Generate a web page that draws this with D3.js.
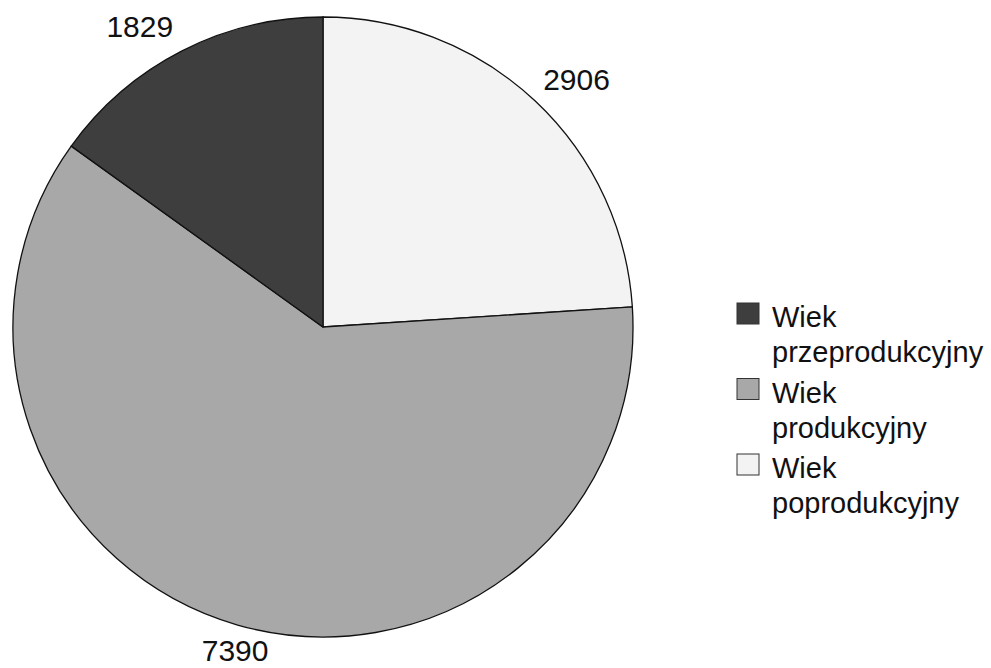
<!DOCTYPE html>
<html>
<head>
<meta charset="utf-8">
<script src="https://cdn.jsdelivr.net/npm/d3@7"></script>
<style>
  body { margin: 0; background: #fff; }
  text { font-family: "Liberation Sans", Arial, sans-serif; fill: #111; }
</style>
</head>
<body>
<script>
const categories = ["Wiek poprodukcyjny", "Wiek produkcyjny", "Wiek przeprodukcyjny"];
const values = [2906, 7390, 1829];
const colors = ["#f3f3f3", "#a8a8a8", "#3e3e3e"];
const legendOrder = ["Wiek przeprodukcyjny", "Wiek produkcyjny", "Wiek poprodukcyjny"];

// small hand nudges for the outside labels (layout only)
const labelNudge = [[3, 3], [13, -8], [-16, 5]];

const width = 991, height = 668;
const cx = 323, cy = 327, radius = 310;

const svg = d3.select("body").append("svg")
  .attr("width", width)
  .attr("height", height);

const color = d3.scaleOrdinal().domain(categories).range(colors);

const data = categories.map((c, i) => ({ name: c, value: values[i] }));

const pie = d3.pie().sort(null).value(d => d.value);
const arcs = pie(data);

const arc = d3.arc().innerRadius(0).outerRadius(radius);
const labelArc = d3.arc().innerRadius(333).outerRadius(333);

const g = svg.append("g").attr("transform", `translate(${cx},${cy})`);

g.selectAll("path")
  .data(arcs)
  .enter().append("path")
    .attr("d", arc)
    .attr("fill", d => color(d.data.name))
    .attr("stroke", "#111")
    .attr("stroke-width", 1.3);

// value labels sit outside the pie, pushed away by half their size
const capH = 22;
g.selectAll("text.val")
  .data(arcs)
  .enter().append("text")
    .attr("class", "val")
    .attr("text-anchor", "middle")
    .attr("font-size", "30px")
    .text(d => d.data.value)
    .each(function(d, i) {
      const w = this.getComputedTextLength();
      const a = (d.startAngle + d.endAngle) / 2;
      const [px, py] = labelArc.centroid(d);
      const x = px + Math.sin(a) * w / 2 + labelNudge[i][0];
      const y = py - Math.cos(a) * capH / 2 + labelNudge[i][1];
      d3.select(this).attr("x", x).attr("y", y + capH / 2);
    });

// legend
const legend = svg.append("g").attr("transform", "translate(737,303)");
const item = legend.selectAll("g")
  .data(legendOrder)
  .enter().append("g")
    .attr("transform", (d, i) => `translate(0, ${i * 75.5})`);

item.append("rect")
  .attr("width", 22)
  .attr("height", 21)
  .attr("fill", d => color(d))
  .attr("stroke", "#333")
  .attr("stroke-width", 1);

item.append("text")
  .attr("x", 35)
  .attr("y", 24)
  .attr("font-size", "29px")
  .text(d => d.split(" ")[0]);

item.append("text")
  .attr("x", 35)
  .attr("y", 59)
  .attr("font-size", "29px")
  .text(d => d.split(" ")[1]);
</script>
</body>
</html>
